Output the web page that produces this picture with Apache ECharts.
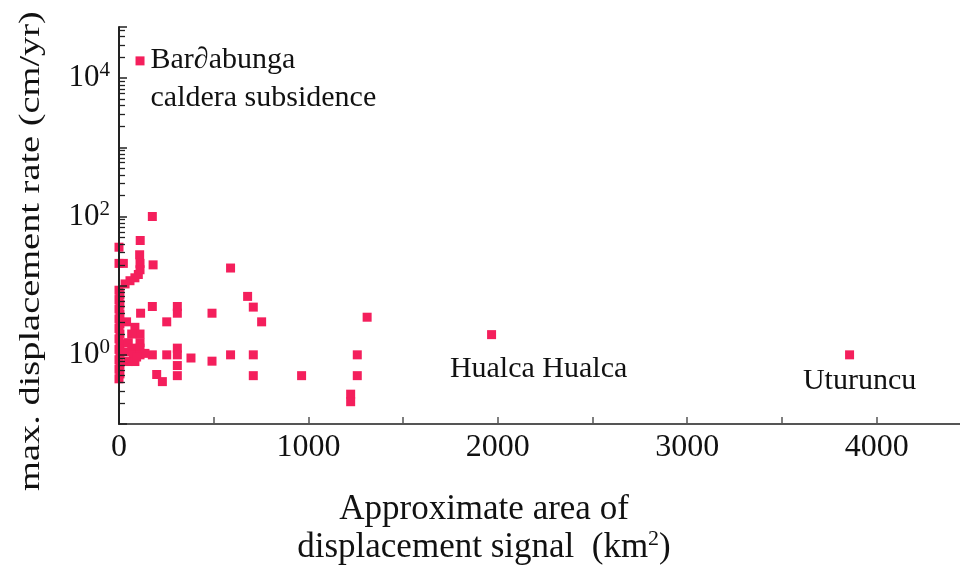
<!DOCTYPE html>
<html>
<head>
<meta charset="utf-8">
<script src="https://cdn.jsdelivr.net/npm/echarts@6/dist/echarts.min.js"></script>
<style>html,body{margin:0;padding:0;background:#fff}#c{width:960px;height:571px}</style>
</head>
<body>
<div id="c"></div>
<script>
// Approximate area of displacement signal (km^2)
const areaKm2 = [
  176, 112, 0, 109, 0, 23, 111, 180, 111, 102, 84, 58, 32,
  589, 679, 709, 753, 176, 308, 308, 114, 491, 252,
  589, 709, 709, 964, 491, 380, 308, 308, 308, 308, 252, 176, 199, 229,
  1310, 1258, 1258, 1223, 1223,
  0, 5, 0, 5, 0, 5, 0, 5, 0, 5, 0, 5, 0, 5, 0, 5, 0, 5, 0,
  40, 84, 111, 67, 111, 49, 67, 111, 32, 76, 111, 49, 84, 137, 93
];
// max. displacement rate (cm/yr)
const rateCmYr = [
  100, 45, 36, 28, 21, 21, 21, 20, 17, 14.5, 13, 11.8, 10.6,
  18, 7, 4.9, 3.0, 5.0, 5.0, 4.0, 4.0, 4.0, 3.0,
  1.0, 1.0, 0.5, 0.5, 0.81, 0.9, 1.25, 1.0, 0.7, 0.5, 1.0, 1.0, 0.52, 0.41,
  3.5, 1.0, 0.5, 0.27, 0.21,
  8.6, 7.4, 6.3, 5.4, 4.6, 3.9, 3.3, 2.8, 2.4, 2.0, 1.7, 1.45, 1.2, 1.0, 0.85, 0.72, 0.62, 0.53, 0.45,
  3.0, 2.5, 2.0, 2.0, 1.5, 1.5, 1.25, 1.25, 1.1, 1.0, 1.0, 0.8, 0.8, 1.05, 0.93
];
// Annotated volcanoes
const namedArea = [111, 1967, 3857];
const namedRate = [17800, 1.96, 1.0];
const namedLabels = ['Bar\u2202abunga\ncaldera subsidence', 'Hualca Hualca', 'Uturuncu'];

const xTicks = ['0', '1000', '2000', '3000', '4000'];
const yTickExponents = [0, 2, 4];
const yTitle = 'max. displacement rate (cm/yr)';
const xTitleLines = ['Approximate area of', 'displacement signal  (km{s|2})'];

const SERIF = '"Liberation Serif", "DejaVu Serif", serif';
const PINK = '#f41f5c';
const Y_MIN = 0.1, Y_MAX = 55000;

const mainData = areaKm2.map((x, i) => [x, rateCmYr[i]]);
const labelPlace = [
  { position: 'right', distance: 6, offset: [0, 18], align: 'left', lineHeight: 38 },
  { position: 'inside', offset: [47, 34], align: 'center' },
  { position: 'inside', offset: [10, 26], align: 'center' }
];
const namedData = namedArea.map((x, i) => ({
  value: [x, namedRate[i]],
  label: Object.assign({
    show: true,
    formatter: namedLabels[i],
    color: '#111',
    fontFamily: SERIF,
    fontSize: 30
  }, labelPlace[i])
}));

const chart = echarts.init(document.getElementById('c'), null, { renderer: 'canvas' });
chart.setOption({
  animation: false,
  backgroundColor: '#fff',
  grid: { left: 119, right: 0, top: 27, bottom: 147, containLabel: false },
  xAxis: {
    type: 'value',
    min: 0,
    max: 4440,
    interval: 500,
    splitLine: { show: false },
    axisLine: { show: true, onZero: false, lineStyle: { color: '#555', width: 2 } },
    axisTick: { show: true, inside: true, length: 7, lineStyle: { color: '#555', width: 1.5 } },
    axisLabel: {
      fontFamily: SERIF, fontSize: 32, color: '#111', margin: 8,
      showMaxLabel: false,
      formatter: v => xTicks.indexOf(String(v)) >= 0 ? String(v) : ''
    }
  },
  yAxis: {
    type: 'log',
    logBase: 10,
    min: Y_MIN,
    max: Y_MAX,
    interval: 1,
    splitLine: { show: false },
    axisLine: { show: true, onZero: false, lineStyle: { color: '#222', width: 2 } },
    axisTick: { show: true, inside: true, length: 8, lineStyle: { color: '#222', width: 1.5 } },
    minorTick: { show: true, splitNumber: 9, length: 6, lineStyle: { color: '#222', width: 1.3 } },
    axisLabel: {
      margin: 9,
      showMaxLabel: false,
      formatter: v => {
        const e = Math.log10(v);
        const r = Math.round(e);
        if (Math.abs(e - r) > 1e-6 || yTickExponents.indexOf(r) < 0) return '';
        return '{b|10}{s|' + r + '}';
      },
      rich: {
        b: { fontFamily: SERIF, fontSize: 31, color: '#111', lineHeight: 36 },
        s: { fontFamily: SERIF, fontSize: 21, color: '#111', verticalAlign: 'top', lineHeight: 36 }
      }
    },
    z: 5
  },
  series: [
    {
      type: 'scatter',
      symbol: 'rect',
      symbolSize: 9,
      itemStyle: { color: PINK, opacity: 1 },
      data: mainData,
      z: 2
    },
    {
      type: 'scatter',
      symbol: 'rect',
      symbolSize: 9,
      itemStyle: { color: PINK, opacity: 1 },
      data: namedData,
      z: 3
    }
  ],
  graphic: [
    {
      type: 'text',
      x: 31, y: 251,
      rotation: Math.PI / 2,
      scaleX: 1.28,
      style: {
        text: yTitle,
        font: '30px ' + SERIF,
        fill: '#111',
        align: 'center',
        verticalAlign: 'middle'
      }
    },
    {
      type: 'text',
      x: 484, y: 510,
      style: {
        text: xTitleLines[0],
        font: '35px ' + SERIF,
        fill: '#111',
        align: 'center',
        verticalAlign: 'middle'
      }
    },
    {
      type: 'text',
      x: 484, y: 548,
      style: {
        text: xTitleLines[1],
        font: '35px ' + SERIF,
        fill: '#111',
        align: 'center',
        verticalAlign: 'middle',
        rich: {
          s: { font: '22px ' + SERIF, fill: '#111', verticalAlign: 'top', lineHeight: 40 }
        }
      }
    }
  ]
});
</script>
</body>
</html>
